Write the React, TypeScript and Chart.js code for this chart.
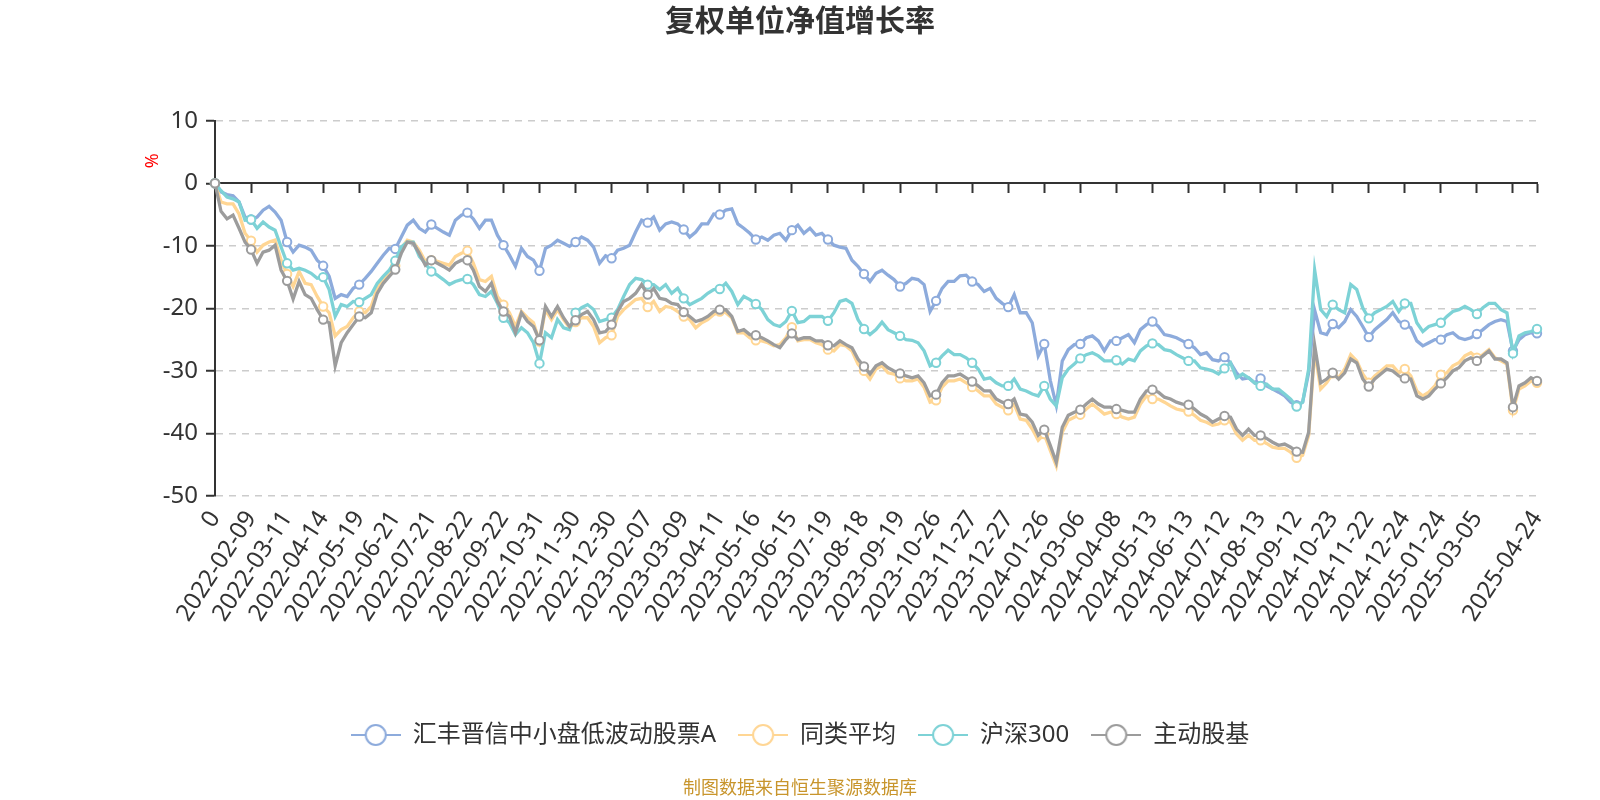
import React, { useEffect, useRef } from 'react';
import { Chart, registerables } from 'chart.js';

Chart.register(...registerables);

const chartTitle = '复权单位净值增长率';
const sourceNote = '制图数据来自恒生聚源数据库';
const unitLabel = '%';

// Labelled ticks of the category axis ('' = tick whose label is hidden)
const tickDates = [
  '0', '2022-02-09', '2022-03-11', '2022-04-14', '2022-05-19', '2022-06-21', '2022-07-21',
  '2022-08-22', '2022-09-22', '2022-10-31', '2022-11-30', '2022-12-30', '2023-02-07',
  '2023-03-09', '2023-04-11', '2023-05-16', '2023-06-15', '2023-07-19', '2023-08-18',
  '2023-09-19', '2023-10-26', '2023-11-27', '2023-12-27', '2024-01-26', '2024-03-06',
  '2024-04-08', '2024-05-13', '2024-06-13', '2024-07-12', '2024-08-13', '2024-09-12',
  '2024-10-23', '2024-11-22', '2024-12-24', '2025-01-24', '2025-03-05', '', '2025-04-24',
];
// samples between two labelled ticks
const STEP = 6;

const seriesNames = ['汇丰晋信中小盘低波动股票A', '同类平均', '沪深300', '主动股基'];
const seriesColors = ['#8DABDC', '#FFD694', '#7DD2D6', '#9C9C9C'];

const fundValues = [
  0, -1.4, -1.8, -2.0, -3.0, -5.4,
  -5.8, -5.4, -4.3, -3.7, -4.6, -5.9,
  -9.4, -11.0, -9.9, -10.2, -10.7, -12.3,
  -13.2, -14.9, -18.4, -17.8, -18.1, -16.8,
  -16.2, -15.2, -14.1, -12.8, -11.5, -10.4,
  -10.5, -8.6, -6.7, -5.9, -7.2, -7.8,
  -6.6, -7.2, -7.8, -8.3, -5.9, -5.1,
  -4.7, -5.7, -7.2, -5.9, -5.9, -8.3,
  -9.9, -11.5, -13.3, -10.4, -11.7, -12.3,
  -14.0, -10.4, -9.9, -9.1, -9.6, -10.1,
  -9.4, -8.6, -9.1, -10.2, -12.8, -11.6,
  -12.0, -10.7, -10.4, -9.9, -7.8, -5.9,
  -6.3, -5.4, -7.5, -6.5, -6.2, -6.5,
  -7.4, -8.6, -7.8, -6.5, -6.5, -4.9,
  -5.0, -4.3, -4.1, -6.5, -7.2, -8.0,
  -9.0, -8.6, -9.1, -8.3, -8.0, -9.1,
  -7.5, -6.7, -8.0, -7.2, -8.3, -8.0,
  -9.0, -9.9, -10.2, -10.4, -12.3, -13.3,
  -14.5, -15.7, -14.4, -13.9, -14.7, -15.4,
  -16.5, -16.0, -15.2, -15.4, -16.2, -20.5,
  -18.8, -16.8, -15.7, -15.7, -14.8, -14.7,
  -15.7, -16.2, -17.3, -16.8, -18.4, -19.2,
  -19.8, -17.8, -20.7, -20.7, -22.3, -27.6,
  -25.7, -31.5, -35.5, -28.4, -26.6, -25.8,
  -25.7, -24.7, -24.4, -25.2, -26.8, -25.2,
  -25.2, -24.7, -24.2, -25.5, -23.4, -22.6,
  -22.1, -22.9, -24.2, -24.4, -24.7, -25.2,
  -25.7, -26.3, -27.4, -27.1, -28.2, -28.4,
  -27.8, -28.7, -30.3, -31.3, -31.1, -31.9,
  -31.2, -32.4, -32.9, -33.4, -34.0, -35.0,
  -35.5, -35.0, -30.3, -20.3, -23.9, -24.2,
  -22.5, -23.1, -22.1, -20.2, -21.3, -22.9,
  -24.6, -23.4, -22.6, -21.8, -20.7, -22.1,
  -22.6, -23.1, -25.2, -26.0, -25.5, -25.0,
  -25.0, -24.2, -23.9, -24.7, -25.0, -24.7,
  -24.1, -23.4, -22.6, -22.1, -21.8, -22.1,
  -26.8, -25.0, -24.2, -23.9, -24.0,
];

const peerAvgValues = [
  0, -3.0, -3.3, -3.3, -4.9, -8.0,
  -9.2, -11.0, -9.9, -9.4, -9.1, -12.3,
  -14.5, -16.5, -14.1, -16.0, -16.2, -18.1,
  -19.7, -20.7, -24.4, -23.4, -22.9, -21.5,
  -20.5, -20.7, -19.7, -16.8, -15.4, -14.1,
  -13.2, -10.4, -9.1, -9.4, -10.7, -12.5,
  -12.3, -12.5, -12.8, -13.1, -11.7, -11.2,
  -10.8, -12.8, -15.4, -15.7, -14.9, -18.1,
  -19.4, -20.7, -22.9, -20.5, -21.5, -22.3,
  -25.3, -20.2, -21.8, -20.2, -21.8, -23.1,
  -22.2, -21.5, -21.5, -22.9, -25.5, -24.7,
  -24.3, -21.3, -20.2, -19.4, -18.6, -18.4,
  -19.8, -18.9, -20.5, -19.7, -19.9, -20.5,
  -21.3, -21.8, -23.1, -22.3, -21.8, -21.0,
  -20.5, -20.7, -21.5, -23.9, -23.9, -24.7,
  -25.1, -25.2, -25.5, -26.0, -25.8, -24.7,
  -23.0, -25.2, -25.0, -25.0, -25.5, -25.8,
  -26.6, -26.8, -25.8, -26.0, -26.8, -28.9,
  -30.0, -31.3, -29.7, -29.2, -30.3, -30.5,
  -31.2, -31.6, -31.6, -31.3, -32.6, -35.0,
  -34.7, -32.6, -31.6, -31.6, -31.3, -31.9,
  -32.6, -33.2, -34.0, -34.0, -35.3, -35.8,
  -36.3, -35.3, -37.7, -37.9, -39.3, -41.1,
  -40.1, -42.7, -45.2, -39.8, -37.9, -37.4,
  -37.0, -36.1, -35.3, -36.1, -36.9, -36.6,
  -36.9, -37.4, -37.7, -37.4, -35.3, -34.0,
  -34.5, -34.5, -35.0, -35.6, -36.1, -36.3,
  -36.5, -37.1, -37.9, -38.2, -38.7, -38.5,
  -37.9, -38.2, -40.1, -41.1, -40.3, -41.1,
  -41.1, -41.6, -42.2, -42.4, -42.4, -43.0,
  -43.9, -43.5, -40.3, -26.8, -32.9, -31.9,
  -30.4, -31.1, -29.7, -27.4, -28.4, -30.5,
  -31.9, -30.8, -30.0, -29.2, -29.2, -30.3,
  -29.7, -30.8, -33.2, -34.0, -33.4, -32.4,
  -30.6, -30.3, -29.2, -28.7, -27.6, -27.1,
  -27.9, -27.4, -26.6, -27.9, -28.4, -28.9,
  -36.3, -32.9, -32.4, -31.6, -31.9,
];

const hs300Values = [
  0, -1.2, -2.2, -2.5, -3.0, -5.9,
  -5.8, -7.2, -6.2, -7.0, -7.5, -10.2,
  -12.8, -13.9, -13.6, -13.9, -14.4, -15.2,
  -15.0, -17.0, -21.3, -19.4, -19.7, -18.9,
  -19.0, -18.4, -17.8, -16.0, -14.9, -13.9,
  -12.4, -10.2, -9.4, -9.4, -11.7, -12.8,
  -14.1, -14.7, -15.4, -16.2, -15.7, -15.4,
  -15.3, -16.2, -17.8, -18.1, -17.3, -19.2,
  -21.5, -22.3, -24.2, -23.1, -23.9, -25.5,
  -28.8, -23.9, -24.7, -21.8, -23.1, -23.4,
  -20.7, -19.9, -19.4, -20.2, -22.1, -21.8,
  -21.5, -20.2, -18.1, -16.2, -15.2, -15.4,
  -16.2, -16.2, -17.0, -16.2, -17.6, -16.8,
  -18.4, -19.4, -18.9, -18.4, -17.6, -17.0,
  -16.9, -16.0, -17.3, -19.4, -18.1, -18.6,
  -19.3, -20.2, -21.8, -22.6, -22.9, -22.1,
  -20.4, -22.3, -22.1, -21.3, -21.3, -21.3,
  -22.0, -20.7, -18.9, -18.6, -19.2, -21.8,
  -23.3, -24.2, -23.4, -22.2, -23.4, -23.9,
  -24.4, -25.0, -25.1, -25.5, -26.8, -29.2,
  -28.7, -27.6, -26.7, -27.4, -27.4, -27.9,
  -28.7, -29.7, -31.3, -31.1, -31.9, -32.4,
  -32.4, -31.3, -32.9, -33.2, -33.7, -34.0,
  -32.4, -34.5, -35.6, -31.1, -29.7, -28.9,
  -28.0, -27.4, -27.1, -27.6, -28.4, -28.4,
  -28.3, -28.9, -28.1, -28.4, -26.8, -26.0,
  -25.6, -25.8, -26.6, -26.8, -27.4, -27.9,
  -28.4, -28.4, -29.5, -29.7, -30.0, -30.5,
  -29.6, -28.7, -31.1, -30.5, -31.1, -31.9,
  -32.4, -32.1, -32.9, -32.9, -33.7, -34.5,
  -35.7, -35.0, -29.7, -13.9, -20.2, -21.3,
  -19.4, -20.2, -20.7, -16.2, -17.0, -19.9,
  -21.6, -20.7, -20.2, -19.7, -18.9, -20.5,
  -19.2, -19.2, -22.3, -23.7, -22.9, -22.6,
  -22.3, -21.3, -20.5, -20.2, -19.7, -20.2,
  -20.9, -19.9, -19.2, -19.2, -20.2, -20.7,
  -27.2, -24.4, -23.9, -23.7, -23.3,
];

const activeEquityValues = [
  0, -4.5, -5.7, -5.1, -7.2, -9.4,
  -10.6, -12.8, -11.0, -10.7, -9.9, -13.9,
  -15.6, -18.5, -15.7, -17.8, -18.4, -20.2,
  -21.8, -22.3, -29.2, -25.5, -23.9, -22.6,
  -21.3, -21.5, -20.7, -17.6, -16.0, -14.9,
  -13.8, -11.2, -9.4, -9.6, -11.2, -13.1,
  -12.3, -12.8, -13.3, -13.9, -12.8, -12.3,
  -12.3, -13.9, -16.5, -17.3, -16.0, -18.9,
  -20.5, -21.3, -23.9, -20.7, -22.1, -22.9,
  -25.1, -19.7, -21.3, -19.7, -21.5, -22.9,
  -21.9, -21.0, -20.5, -21.8, -23.9, -23.7,
  -22.6, -20.5, -18.9, -18.4, -17.6, -16.2,
  -17.8, -16.8, -18.4, -18.6, -19.2, -19.4,
  -20.6, -21.3, -22.1, -21.8, -21.3, -20.5,
  -20.2, -20.2, -21.3, -23.7, -23.4, -24.2,
  -24.3, -24.7, -25.2, -25.8, -26.3, -25.0,
  -24.0, -25.0, -24.7, -24.7, -25.2, -25.2,
  -25.9, -26.0, -25.2, -25.8, -26.3, -28.1,
  -29.3, -30.5, -29.2, -28.7, -29.5, -30.0,
  -30.4, -30.8, -31.1, -30.8, -31.9, -34.0,
  -33.8, -31.9, -30.8, -30.8, -30.5, -31.1,
  -31.7, -32.4, -33.2, -33.2, -34.5, -35.0,
  -35.3, -34.5, -36.9, -37.1, -38.2, -40.3,
  -39.4, -41.9, -44.6, -39.0, -37.1, -36.6,
  -36.2, -35.3, -34.5, -35.3, -35.8, -35.8,
  -36.1, -36.3, -36.6, -36.6, -34.5, -33.2,
  -33.0, -33.4, -34.2, -34.5, -35.0, -35.3,
  -35.4, -36.1, -36.9, -37.4, -38.2, -37.7,
  -37.2, -37.4, -39.3, -40.3, -39.3, -40.3,
  -40.3, -40.8, -41.4, -41.9, -41.7, -42.2,
  -42.9, -43.0, -39.8, -25.9, -31.9, -31.3,
  -30.3, -31.3, -30.3, -28.1, -28.7, -31.3,
  -32.5, -31.3, -30.5, -29.7, -30.0, -30.8,
  -31.2, -31.3, -34.0, -34.5, -34.0, -32.9,
  -32.0, -31.1, -30.0, -29.5, -28.4, -27.9,
  -28.4, -27.6, -26.8, -28.1, -28.1, -28.7,
  -35.8, -32.4, -31.9, -31.1, -31.6,
];

const yMin = -50;
const yMax = 10;
const yStep = 10;

const FONT = "'Noto Sans', 'Noto Sans CJK SC', sans-serif";

// ---- derived structures ----
const pointCount = fundValues.length;
const tickIndexList: number[] = [];
for (let k = 0; k < tickDates.length - 1; k++) tickIndexList.push(k * STEP);
tickIndexList.push(pointCount - 1);
const tickIndexSet = new Set(tickIndexList);
const categories: string[] = [];
for (let i = 0; i < pointCount; i++) {
  const k = tickIndexList.indexOf(i);
  categories.push(k >= 0 ? tickDates[k] : '');
}
const seriesValues = [fundValues, peerAvgValues, hs300Values, activeEquityValues];

function makeLegendIcon(color: string) {
  const c = document.createElement('canvas');
  c.width = 50;
  c.height = 26;
  const g = c.getContext('2d')!;
  g.strokeStyle = color;
  g.lineWidth = 2;
  g.beginPath();
  g.moveTo(0, 13);
  g.lineTo(50, 13);
  g.stroke();
  g.beginPath();
  g.arc(25, 13, 10, 0, Math.PI * 2);
  g.fillStyle = '#fff';
  g.fill();
  g.stroke();
  return c;
}

const filterTicks = (scale: any) => {
  scale.ticks = scale.ticks.filter((t: any) => tickIndexSet.has(t.value));
};

const unitPlugin = {
  id: 'unitLabel',
  afterDraw(chart: any) {
    const { ctx, chartArea } = chart;
    ctx.save();
    ctx.translate(chartArea.left - 62, chartArea.top + 40);
    ctx.rotate(-Math.PI / 2);
    ctx.fillStyle = '#ff0000';
    ctx.font = `18px ${FONT}`;
    ctx.textAlign = 'center';
    ctx.textBaseline = 'middle';
    ctx.fillText(unitLabel, 0, 0);
    ctx.restore();
  },
};

export default function App() {
  const canvasRef = useRef<HTMLCanvasElement | null>(null);

  useEffect(() => {
    document.body.style.margin = '0';
    const icons = seriesColors.map(makeLegendIcon);
    const datasets = seriesNames.map((name, i) => ({
      label: name,
      data: seriesValues[i],
      borderColor: seriesColors[i],
      backgroundColor: '#ffffff',
      borderWidth: 3.3,
      pointRadius: (ctx: any) => (tickIndexSet.has(ctx.dataIndex) ? 4.2 : 0),
      pointHoverRadius: 0,
      pointBorderWidth: 2,
      pointBorderColor: seriesColors[i],
      pointBackgroundColor: '#ffffff',
      tension: 0,
      fill: false,
      order: seriesNames.length - i,
    }));

    const chart = new Chart(canvasRef.current!, {
      type: 'line',
      data: { labels: categories, datasets },
      plugins: [unitPlugin],
      options: {
        animation: false,
        responsive: true,
        maintainAspectRatio: false,
        events: [],
        layout: { padding: { left: 0, right: 0, top: 0, bottom: 0 } },
        scales: {
          x: {
            type: 'category',
            position: 'bottom',
            grid: { display: false, drawTicks: false },
            border: { display: false },
            afterBuildTicks: filterTicks,
            afterFit: (scale: any) => {
              scale.height = 205;
            },
            ticks: {
              autoSkip: false,
              minRotation: 57,
              maxRotation: 57,
              padding: 10,
              color: '#333',
              font: { size: 24, family: FONT },
            },
          },
          x2: {
            type: 'category',
            position: { y: 0 },
            afterBuildTicks: filterTicks,
            ticks: { display: false },
            grid: {
              display: true,
              drawOnChartArea: false,
              drawTicks: true,
              tickLength: 9,
              tickColor: '#333',
              tickWidth: 2,
            },
            border: { display: true, color: '#333', width: 2 },
          },
          y: {
            type: 'linear',
            position: 'left',
            min: yMin,
            max: yMax,
            afterFit: (scale: any) => {
              scale.width = 215;
            },
            ticks: {
              stepSize: yStep,
              padding: 8,
              color: '#333',
              font: { size: 24, family: FONT },
            },
            grid: {
              color: (ctx: any) => (ctx.tick && ctx.tick.value === 0 ? 'rgba(0,0,0,0)' : '#cccccc'),
              lineWidth: 1.5,
              drawTicks: true,
              tickLength: 9,
              tickColor: '#333',
              tickWidth: 2,
              tickBorderDash: [],
            },
            border: { display: true, color: '#333', width: 2, dash: [7, 6] },
          },
          yRight: {
            type: 'linear',
            position: 'right',
            display: true,
            grid: { display: false, drawTicks: false },
            border: { display: false },
            ticks: { display: false },
            afterFit: (scale: any) => {
              scale.width = 63;
            },
          },
        },
        plugins: {
          tooltip: { enabled: false },
          title: {
            display: true,
            text: chartTitle,
            color: '#333',
            font: { size: 30, weight: 'bold', family: FONT },
            padding: { top: 4.4, bottom: 80.3 },
          },
          subtitle: {
            display: true,
            position: 'bottom',
            text: sourceNote,
            color: '#c8952c',
            font: { size: 18, family: FONT },
            padding: { top: 21.4, bottom: 0 },
          },
          legend: {
            display: true,
            position: 'bottom',
            labels: {
              usePointStyle: true,
              pointStyleWidth: 50,
              padding: 22,
              color: '#333',
              font: { size: 24, family: FONT },
              generateLabels: (ch: any) =>
                ch.data.datasets.map((ds: any, i: number) => ({
                  text: ds.label,
                  pointStyle: icons[i],
                  fillStyle: '#fff',
                  strokeStyle: seriesColors[i],
                  lineWidth: 0,
                  hidden: false,
                  datasetIndex: i,
                  fontColor: '#333',
                })),
            },
          },
        },
      } as any,
    });
    return () => chart.destroy();
  }, []);

  return (
    <div style={{ position: 'fixed', left: 0, top: 0, width: 1600, height: 800 }}>
      <canvas ref={canvasRef} />
    </div>
  );
}
